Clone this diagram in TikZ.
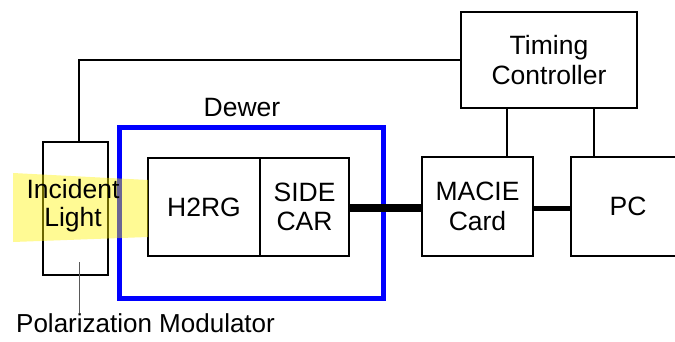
\documentclass[tikz,border=0pt]{standalone}
\usepackage{fontspec}
\setmainfont{Liberation Sans}
\begin{document}
\begin{tikzpicture}[x=1pt,y=-1pt,
  box/.style={draw=black,line width=2pt,fill=none,inner sep=0pt,align=center,font=\fontsize{26.5}{29.5}\selectfont},
  wire/.style={draw=black,line width=1.1pt},
  lbl/.style={inner sep=0pt,align=center,font=\fontsize{26.5}{29}\selectfont}]
\useasboundingbox (0,0) rectangle (675,342);
% boxes
\node[box,minimum width=176pt,minimum height=96pt] (tc) at (549,60) {Timing\\Controller};
\node[box,minimum width=65pt,minimum height=133pt] (pm) at (75.5,208.5) {};
\draw[blue,line width=5pt] (119,128) rectangle (383,298);
\node[lbl,anchor=base] (dw) at (242,117) {Dewer};
\node[box,minimum width=112pt,minimum height=97pt] (h2) at (204,207) {H2RG};
\node[box,minimum width=89pt,minimum height=97pt] (sc) at (304.5,207) {SIDE\\CAR};
\node[box,minimum width=111pt,minimum height=98pt] (mc) at (477.5,206.5) {MACIE\\Card};
\node[box,minimum width=114pt,minimum height=98pt] (pc) at (628,206.5) {PC};
% connectors
\coordinate (c1) at (507,0);
\coordinate (c2) at (594,0);
\coordinate (c3) at (79,0);
\draw[wire] (pm.north -| c3) |- (tc.west);
\draw[wire] (tc.south -| c1) -- (mc.north -| c1);
\draw[wire] (tc.south -| c2) -- (pc.north -| c2);
\draw[black,line width=8pt] (sc.east |- 0,208) -- (mc.west |- 0,208);
\draw[black,line width=5pt] (mc.east |- 0,208) -- (pc.west |- 0,208);
% light
\fill[fill=yellow,opacity=0.42] (13,173) -- (148,180) -- (148,237) -- (13,242) -- cycle;
\node[lbl,anchor=base] (inc) at (73,198) {Incident};
\node[lbl,anchor=base] (lt) at (73,226) {Light};
% polarization label
\node[lbl,anchor=base west,font=\fontsize{26}{28}\selectfont] (pl) at (16,332) {Polarization Modulator};
\coordinate (ld) at (79,262);
\draw[gray!70!black,line width=0.8pt] (ld) -- (ld |- pl.north);
\end{tikzpicture}
\end{document}
